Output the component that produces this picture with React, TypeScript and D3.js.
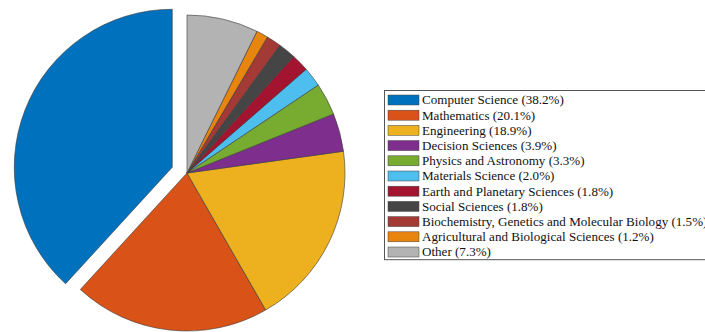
import React, { useEffect, useRef, useState } from "react";
import * as d3 from "d3";

const categories = [
  "Computer Science",
  "Mathematics",
  "Engineering",
  "Decision Sciences",
  "Physics and Astronomy",
  "Materials Science",
  "Earth and Planetary Sciences",
  "Social Sciences",
  "Biochemistry, Genetics and Molecular Biology",
  "Agricultural and Biological Sciences",
  "Other",
];
const shares = [38.2, 20.1, 18.9, 3.9, 3.3, 2.0, 1.8, 1.8, 1.5, 1.2, 7.3];
const colors = [
  "#0072BD",
  "#D95319",
  "#EDB120",
  "#7E2F8E",
  "#77AC30",
  "#4DBEEE",
  "#A2142F",
  "#454545",
  "#A33A35",
  "#E8850F",
  "#B3B3B3",
];
const exploded = [true, false, false, false, false, false, false, false, false, false, false];

const W = 705;
const H = 332;
const cx = 187;
const cy = 173;
const R = 158;
const FONT = "'Liberation Serif', 'Times New Roman', Times, serif";

export default function App() {
  const total = d3.sum(shares);
  // counterclockwise from 12 o'clock (MATLAB style)
  const angle = d3.scaleLinear().domain([0, total]).range([0, -2 * Math.PI]);
  const cum = d3.cumsum(shares);
  const arc = d3.arc<any>().innerRadius(0).outerRadius(R);
  const slices = shares.map((v, i) => {
    const start = angle(cum[i] - v);
    const end = angle(cum[i]);
    const mid = (start + end) / 2;
    const off = exploded[i] ? R * 0.1 : 0;
    const dx = Math.sin(mid) * off;
    const dy = -Math.cos(mid) * off;
    return { i, start: end, end: start, dx, dy };
  });

  const lx = 384;
  const ly = 90;
  const rowH = 15.2;
  const legendW = 340;

  const firstRef = useRef<SVGTextElement>(null);
  const [fs, setFs] = useState(13);
  useEffect(() => {
    const el = firstRef.current;
    if (!el) return;
    const w = el.getComputedTextLength();
    if (w > 0) {
      const target = 142;
      const next = Math.max(10, Math.min(16, (fs * target) / w));
      if (Math.abs(next - fs) > 0.05) setFs(next);
    }
  }, [fs]);

  return (
    <svg
      width={W}
      height={H}
      style={{ position: "absolute", left: 0, top: 0, background: "#fff" }}
    >
      <g transform={`translate(${cx},${cy})`}>
        {slices.map((s) => (
          <path
            key={s.i}
            transform={`translate(${s.dx},${s.dy})`}
            d={arc({ startAngle: s.start, endAngle: s.end }) as string}
            fill={colors[s.i]}
            stroke="#3a3a3a"
            strokeWidth={0.6}
          />
        ))}
      </g>
      <g>
        <rect
          x={lx + 0.5}
          y={ly + 0.5}
          width={legendW}
          height={rowH * categories.length + 2}
          fill="#fff"
          stroke="#555"
          strokeWidth={1}
        />
        {categories.map((c, i) => {
          const yc = ly + 10 + i * rowH;
          return (
            <g key={c}>
              <rect
                x={lx + 4}
                y={yc - 5}
                width={31}
                height={10}
                fill={colors[i]}
                stroke="#444"
                strokeWidth={0.5}
              />
              <text
                ref={i === 0 ? firstRef : undefined}
                x={lx + 38}
                y={yc + fs * 0.34}
                fontSize={fs}
                fill="#111"
                style={{ fontFamily: FONT }}
              >
                {`${c} (${shares[i].toFixed(1)}%)`}
              </text>
            </g>
          );
        })}
      </g>
    </svg>
  );
}
